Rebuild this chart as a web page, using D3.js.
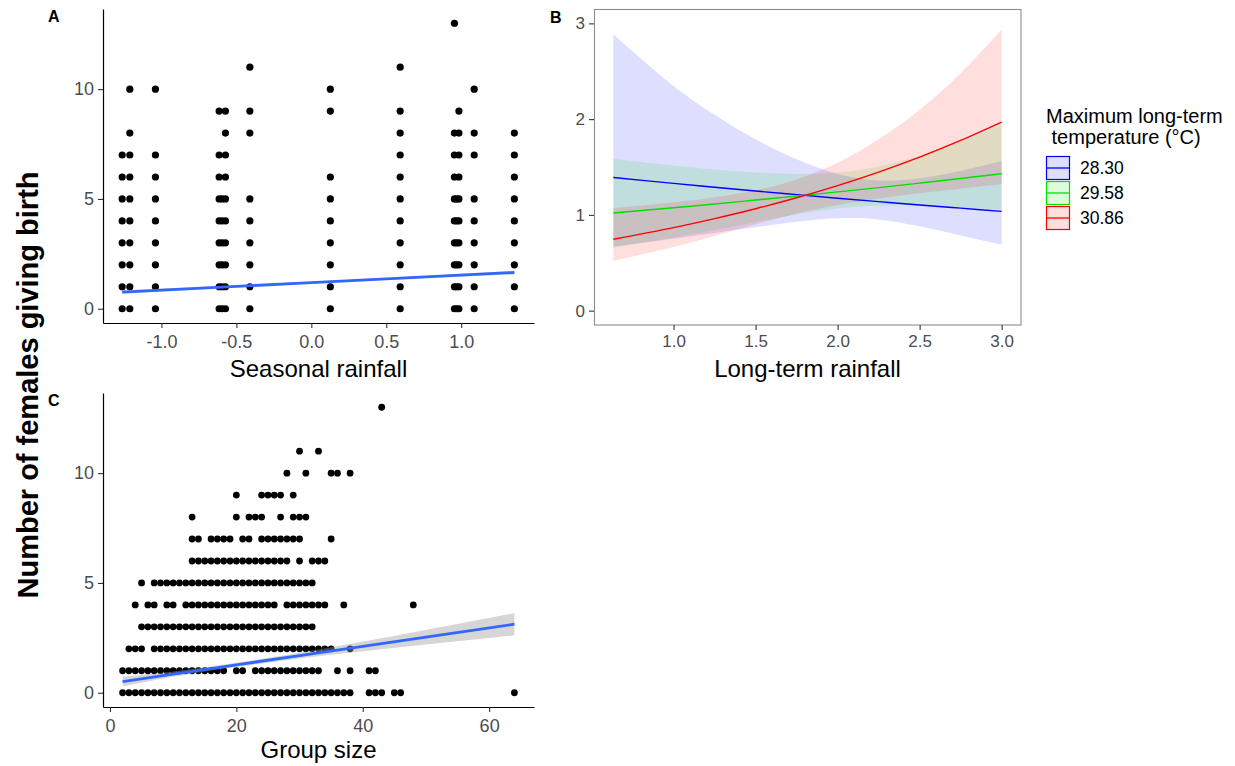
<!DOCTYPE html>
<html><head><meta charset="utf-8">
<script src="https://cdn.jsdelivr.net/npm/d3@7"></script>
<style>
body{margin:0;background:#fff}
svg{display:block}
text{font-family:"Liberation Sans",Arial,Helvetica,sans-serif}
</style>
</head><body>
<svg id="chart" width="1235" height="766"></svg>
<script>
// ---------- Panel A data: seasonal rainfall vs births ----------
const seasonalRainfall = [-1.262, -1.211, -1.04, -0.615, -0.595, -0.573, -0.41, 0.127, 0.593, 0.955, 0.97, 0.985, 1.087, 1.355];
const birthsBySeasonalRainfall = [
  [0,1,2,3,4,5,6,7],
  [0,1,2,3,4,5,6,7,8,10],
  [0,1,2,3,4,5,6,7,10],
  [0,1,2,3,4,5,6,7,9],
  [0,1,2,3,4,5],
  [0,1,2,3,4,5,6,7,8,9],
  [0,1,2,3,4,5,8,9,11],
  [0,1,2,3,4,5,6,9,10],
  [0,1,2,3,4,5,6,7,8,9,11],
  [0,1,2,3,4,5,6,7,8,13],
  [0,1,2,3,4,5],
  [0,1,2,3,4,5,6,7,8,9],
  [0,1,2,3,4,5,7,8,10],
  [0,1,2,3,4,5,6,7,8]
];
const smoothAX = [-1.262, -0.6, 0, 0.6, 1.355];
const smoothAFit = [0.76, 0.985, 1.189, 1.393, 1.65];
const smoothALo = [0.68, 0.935, 1.149, 1.343, 1.57];
const smoothAHi = [0.84, 1.035, 1.229, 1.443, 1.73];

// ---------- Panel C data: group size vs births ----------
const birthCounts = [0,1,2,3,4,5,6,7,8,9,10,11,13];
const groupSizesByCount = [
  [2,3,4,5,6,7,8,9,10,11,12,13,14,15,16,17,18,19,20,21,22,23,24,25,26,27,28,29,30,31,32,33,34,35,36,37,38,41,42,43,45,46,64],
  [2,3,4,5,6,7,8,9,10,11,12,13,14,15,16,17,18,20,21,23,24,25,26,27,28,29,30,31,32,33,36,38,41,42],
  [3,4,5,7,8,9,10,11,12,13,14,15,16,17,18,19,20,21,22,23,24,25,26,27,28,29,30,31,32,33,34,35,38],
  [5,6,7,8,9,10,11,12,13,14,15,16,17,18,19,20,21,22,23,24,25,26,27,28,29,30,31,32],
  [4,6,7,9,10,12,13,14,15,16,17,18,19,20,21,22,23,24,25,26,28,29,30,31,32,33,34,37,48],
  [5,7,8,9,10,11,12,13,14,15,16,17,18,19,20,21,22,23,24,25,26,27,28,29,30,31,32],
  [13,14,15,16,17,18,19,20,21,22,23,24,25,26,27,28,30,32,33,34],
  [13,14,16,17,18,19,21,22,24,25,26,27,28,29,30,35],
  [13,20,22,23,24,27,29,30,31],
  [20,24,25,26,27,29],
  [28,31,35,36,38],
  [30,33],
  [43]
];
const smoothCX = [2, 10, 20, 30, 40, 50, 64];
const smoothCFit = [0.51, 0.85, 1.27, 1.69, 2.11, 2.53, 3.12];
const smoothCLo = [0.29, 0.73, 1.17, 1.56, 1.89, 2.20, 2.62];
const smoothCHi = [0.73, 0.97, 1.37, 1.82, 2.33, 2.86, 3.62];

// ---------- Panel B data: long-term rainfall predictions ----------
const longTermRainfall = [0.633, 1.0, 1.25, 1.5, 1.75, 2.0, 2.25, 2.5, 2.75, 3.0];
const tempLabels = ["28.30", "29.58", "30.86"];
const fit2830 = [1.391, 1.329, 1.289, 1.249, 1.211, 1.174, 1.138, 1.103, 1.070, 1.037];
const lo2830  = [0.670, 0.752, 0.812, 0.871, 0.928, 0.965, 0.953, 0.880, 0.784, 0.688];
const hi2830  = [2.886, 2.347, 2.045, 1.790, 1.580, 1.428, 1.360, 1.383, 1.460, 1.562];
const fit2958 = [1.020, 1.075, 1.114, 1.155, 1.196, 1.240, 1.285, 1.332, 1.380, 1.430];
const lo2958  = [0.656, 0.763, 0.842, 0.924, 1.003, 1.066, 1.097, 1.097, 1.079, 1.053];
const hi2958  = [1.586, 1.514, 1.474, 1.443, 1.427, 1.442, 1.505, 1.618, 1.765, 1.943];
const fit3086 = [0.746, 0.867, 0.961, 1.064, 1.179, 1.306, 1.447, 1.603, 1.777, 1.968];
const lo3086  = [0.520, 0.664, 0.780, 0.901, 1.015, 1.104, 1.171, 1.225, 1.274, 1.319];
const hi3086  = [1.070, 1.131, 1.184, 1.256, 1.370, 1.545, 1.790, 2.098, 2.479, 2.936];
const tempColors = ["#0000ff", "#00e000", "#ff0000"];

// ---------- drawing ----------
const svg = d3.select("#chart");
const tickGrey = "#4d4d4d";

function styleAxis(g, fontSize) {
  g.selectAll("text").attr("fill", tickGrey).style("font-size", fontSize + "px");
  g.selectAll(".tick line").attr("stroke", "#333").attr("stroke-width", 1.1);
}

// ===== Panel A =====
const xA = d3.scaleLinear().domain([-1.39, 1.486]).range([103, 534]);
const yA = d3.scaleLinear().domain([-0.65, 13.65]).range([323, 9]);

const gA = svg.append("g");
const ptsA = [];
seasonalRainfall.forEach((x, i) => birthsBySeasonalRainfall[i].forEach(y => ptsA.push({x, y})));
gA.selectAll("circle").data(ptsA).join("circle")
  .attr("cx", d => xA(d.x)).attr("cy", d => yA(d.y)).attr("r", 3.6).attr("fill", "#000");

const bandA = smoothAX.map((x, i) => ({x, lo: smoothALo[i], hi: smoothAHi[i], fit: smoothAFit[i]}));
gA.append("path").datum(bandA)
  .attr("d", d3.area().x(d => xA(d.x)).y0(d => yA(d.lo)).y1(d => yA(d.hi)))
  .attr("fill", "#999").attr("fill-opacity", 0.4);
gA.append("path").datum(bandA)
  .attr("d", d3.line().x(d => xA(d.x)).y(d => yA(d.fit)))
  .attr("fill", "none").attr("stroke", "#3366ff").attr("stroke-width", 2.8);

const axAx = svg.append("g").attr("transform", "translate(0,323)")
  .call(d3.axisBottom(xA).tickValues([-1.0, -0.5, 0.0, 0.5, 1.0]).tickFormat(d => d3.format(".1f")(d).replace("\u2212", "-")).tickSize(5).tickSizeOuter(0).tickPadding(7));
axAx.select(".domain").attr("stroke", "#000").attr("stroke-width", 1.2);
styleAxis(axAx, 18);
const axAy = svg.append("g").attr("transform", "translate(103,0)")
  .call(d3.axisLeft(yA).tickValues([0, 5, 10]).tickFormat(d3.format("d")).tickSize(5).tickSizeOuter(0).tickPadding(4));
axAy.select(".domain").attr("stroke", "#000").attr("stroke-width", 1.2);
styleAxis(axAy, 18);

svg.append("text").attr("x", 318.5).attr("y", 377).attr("text-anchor", "middle")
  .style("font-size", "24px").attr("fill", "#000").text("Seasonal rainfall");

// ===== Panel C =====
const xC = d3.scaleLinear().domain([-1.1, 67.1]).range([103, 534]);
const yC = d3.scaleLinear().domain([-0.65, 13.65]).range([707, 393]);
const gC = svg.append("g");
const ptsC = [];
birthCounts.forEach((y, i) => groupSizesByCount[i].forEach(x => ptsC.push({x, y})));
gC.selectAll("circle").data(ptsC).join("circle")
  .attr("cx", d => xC(d.x)).attr("cy", d => yC(d.y)).attr("r", 3.4).attr("fill", "#000");

const bandC = smoothCX.map((x, i) => ({x, lo: smoothCLo[i], hi: smoothCHi[i], fit: smoothCFit[i]}));
gC.append("path").datum(bandC)
  .attr("d", d3.area().curve(d3.curveCatmullRom).x(d => xC(d.x)).y0(d => yC(d.lo)).y1(d => yC(d.hi)))
  .attr("fill", "#999").attr("fill-opacity", 0.4);
gC.append("path").datum(bandC)
  .attr("d", d3.line().x(d => xC(d.x)).y(d => yC(d.fit)))
  .attr("fill", "none").attr("stroke", "#3366ff").attr("stroke-width", 2.8);

const axCx = svg.append("g").attr("transform", "translate(0,707)")
  .call(d3.axisBottom(xC).tickValues([0, 20, 40, 60]).tickFormat(d3.format("d")).tickSize(5).tickSizeOuter(0).tickPadding(7));
axCx.select(".domain").attr("stroke", "#000").attr("stroke-width", 1.2);
styleAxis(axCx, 18);
const axCy = svg.append("g").attr("transform", "translate(103,0)")
  .call(d3.axisLeft(yC).tickValues([0, 5, 10]).tickFormat(d3.format("d")).tickSize(5).tickSizeOuter(0).tickPadding(4));
axCy.select(".domain").attr("stroke", "#000").attr("stroke-width", 1.2);
styleAxis(axCy, 18);

svg.append("text").attr("x", 318.5).attr("y", 758).attr("text-anchor", "middle")
  .style("font-size", "24px").attr("fill", "#000").text("Group size");

// ===== Panel B =====
const xB = d3.scaleLinear().domain([0.515, 3.118]).range([594, 1021]);
const yB = d3.scaleLinear().domain([-0.15, 3.15]).range([325, 9]);
const seriesB = [
  {fit: fit2830, lo: lo2830, hi: hi2830},
  {fit: fit2958, lo: lo2958, hi: hi2958},
  {fit: fit3086, lo: lo3086, hi: hi3086}
].map((s, k) => ({
  color: tempColors[k], label: tempLabels[k],
  pts: longTermRainfall.map((x, i) => ({x, fit: s.fit[i], lo: s.lo[i], hi: s.hi[i]}))
}));
const gB = svg.append("g");
const areaB = d3.area().curve(d3.curveCatmullRom).x(d => xB(d.x)).y0(d => yB(d.lo)).y1(d => yB(d.hi));
const lineB = d3.line().curve(d3.curveCatmullRom).x(d => xB(d.x)).y(d => yB(d.fit));
gB.selectAll("path.band").data(seriesB).join("path").attr("class", "band")
  .attr("d", d => areaB(d.pts)).attr("fill", d => d.color).attr("fill-opacity", 0.13);
gB.selectAll("path.fit").data(seriesB).join("path").attr("class", "fit")
  .attr("d", d => lineB(d.pts)).attr("fill", "none").attr("stroke", d => d.color).attr("stroke-width", 1.4);

svg.append("rect").attr("x", 594.5).attr("y", 9.5).attr("width", 426.5).attr("height", 315.5)
  .attr("fill", "none").attr("stroke", "#8c8c8c").attr("stroke-width", 1.1);

const axBx = svg.append("g").attr("transform", "translate(0,325)")
  .call(d3.axisBottom(xB).tickValues([1.0, 1.5, 2.0, 2.5, 3.0]).tickFormat(d3.format(".1f")).tickSize(5).tickSizeOuter(0).tickPadding(5));
axBx.select(".domain").remove();
styleAxis(axBx, 17);
const axBy = svg.append("g").attr("transform", "translate(594,0)")
  .call(d3.axisLeft(yB).tickValues([0, 1, 2, 3]).tickFormat(d3.format("d")).tickSize(5).tickSizeOuter(0).tickPadding(4));
axBy.select(".domain").remove();
styleAxis(axBy, 17);

svg.append("text").attr("x", 807.5).attr("y", 377).attr("text-anchor", "middle")
  .style("font-size", "24px").attr("fill", "#000").text("Long-term rainfall");

// Legend
const leg = svg.append("g");
leg.append("text").attr("x", 1046).attr("y", 123).style("font-size", "20px").attr("fill", "#000").text("Maximum long-term");
leg.append("text").attr("x", 1046).attr("y", 144).style("font-size", "20px").attr("fill", "#000")
  .attr("xml:space", "preserve").style("white-space", "pre").text(" temperature (°C)");
const keyY = d3.scaleBand().domain(tempLabels).range([156, 231]);
const keys = leg.selectAll("g.key").data(seriesB).join("g").attr("class", "key")
  .attr("transform", d => `translate(1046,${keyY(d.label)})`);
keys.append("rect").attr("x", 0.5).attr("y", 0.5).attr("width", 23).attr("height", 23)
  .attr("fill", d => d.color).attr("fill-opacity", 0.13).attr("stroke", d => d.color).attr("stroke-width", 1.2);
keys.append("line").attr("x1", 1).attr("x2", 23).attr("y1", 12).attr("y2", 12)
  .attr("stroke", d => d.color).attr("stroke-width", 1.3);
keys.append("text").attr("x", 34).attr("y", 12).attr("dy", "0.35em")
  .style("font-size", "17.5px").attr("fill", "#000").text(d => d.label);

// ===== Shared y title and panel tags =====
svg.append("text").attr("transform", "translate(28,385) rotate(-90)").attr("text-anchor", "middle")
  .attr("dy", "0.35em").style("font-size", "29px").style("font-weight", "bold").attr("fill", "#000")
  .text("Number of females giving birth");
svg.append("text").attr("x", 48).attr("y", 22).style("font-size", "16px").style("font-weight", "bold").text("A");
svg.append("text").attr("x", 550).attr("y", 23).style("font-size", "16px").style("font-weight", "bold").text("B");
svg.append("text").attr("x", 48).attr("y", 406).style("font-size", "16px").style("font-weight", "bold").text("C");
</script>
</body></html>
